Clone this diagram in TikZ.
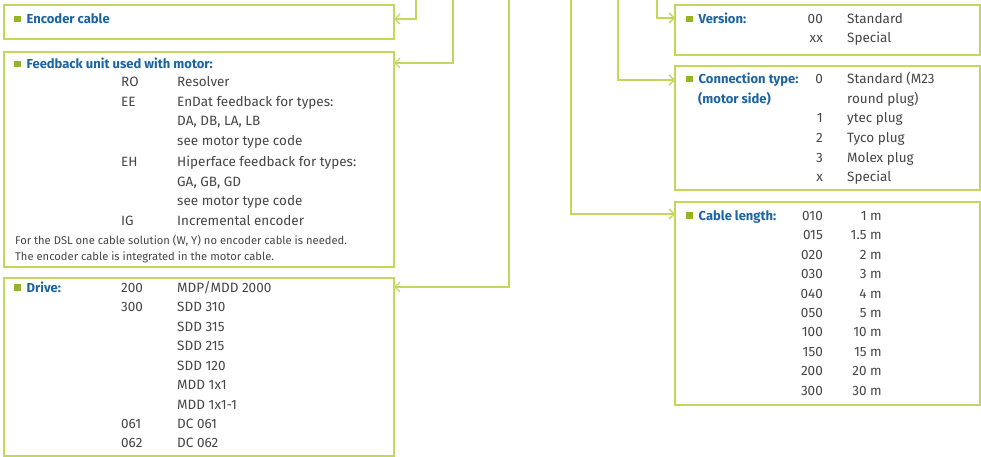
\documentclass[tikz,border=0pt]{standalone}
\usepackage{fontspec}
\setmainfont{Fira Sans}
\usetikzlibrary{arrows.meta}
\definecolor{lgreen}{RGB}{196,214,92}
\definecolor{bgreen}{RGB}{150,180,40}
\definecolor{tblue}{RGB}{28,100,160}
\definecolor{tgray}{RGB}{70,70,70}
\newcommand{\bul}{{\color{bgreen}\rule[1.5pt]{6.5pt}{6.5pt}}\hspace{6pt}}
\tikzset{
 box/.style={draw=lgreen, line width=1.6pt, anchor=north west, inner sep=0, outer sep=0, fill=white},
 conn/.style={draw=lgreen, line width=1.4pt, -{Straight Barb[length=5pt,width=10pt]}},
 ttl/.style={anchor=base west, inner sep=0, text=tblue, font=\fontsize{13}{15}\selectfont\bfseries},
 txt/.style={anchor=base west, inner sep=0, text=tgray, font=\fontsize{13.5}{16}\selectfont},
 txtr/.style={txt, anchor=base east},
 small/.style={txt, font=\fontsize{11.2}{13}\selectfont},
}
\begin{document}
\begin{tikzpicture}[x=1pt,y=-1pt]
\useasboundingbox (0,0) rectangle (981,457);
% boxes
\node[box, minimum width=390pt, minimum height=34pt] (enc) at (4,5) {};
\node[box, minimum width=390pt, minimum height=215pt] (fb) at (4,52) {};
\node[box, minimum width=390pt, minimum height=178pt] (drv) at (4,278) {};
\node[box, minimum width=305pt, minimum height=50pt] (ver) at (675,5) {};
\node[box, minimum width=305pt, minimum height=124pt] (con) at (675,66) {};
\node[box, minimum width=305pt, minimum height=203pt] (cab) at (675,202) {};
% connector ends
\coordinate (t1) at (416,0); \coordinate (encin) at (394,19);
\coordinate (t2) at (453,0); \coordinate (fbin) at (394,63);
\coordinate (t3) at (509,0); \coordinate (drvin) at (394,287);
\coordinate (t4) at (571,0); \coordinate (cabin) at (675,214);
\coordinate (t5) at (618,0); \coordinate (conin) at (675,80);
\coordinate (t6) at (657,0); \coordinate (verin) at (675,18);
\draw[conn] (t1) |- (encin);
\draw[conn] (t2) |- (fbin);
\draw[conn] (t3) |- (drvin);
\draw[conn] (t4) |- (cabin);
\draw[conn] (t5) |- (conin);
\draw[conn] (t6) |- (verin);
% Encoder cable
\node[ttl] (enct) at (14,24) {\bul Encoder cable};
% Feedback
\node[ttl] (fbt) at (14,69) {\bul Feedback unit used with motor:};
\node[txt] (fb1a) at (121,87) {RO};  \node[txt] (fb1b) at (177,87) {Resolver};
\node[txt] (fb2a) at (121,107) {EE}; \node[txt] (fb2b) at (177,107) {EnDat feedback for types:};
\node[txt] (fb3b) at (177,126) {DA, DB, LA, LB};
\node[txt] (fb4b) at (177,146) {see motor type code};
\node[txt] (fb5a) at (121,166) {EH}; \node[txt] (fb5b) at (177,166) {Hiperface feedback for types:};
\node[txt] (fb6b) at (177,186) {GA, GB, GD};
\node[txt] (fb7b) at (177,205) {see motor type code};
\node[txt] (fb8a) at (121,225) {IG}; \node[txt] (fb8b) at (177,225) {Incremental encoder};
\node[small] (fbn1) at (15,244) {For the DSL one cable solution (W, Y) no encoder cable is needed.};
\node[small] (fbn2) at (15,260) {The encoder cable is integrated in the motor cable.};
% Drive
\node[ttl] (drvt) at (14,292) {\bul Drive:};
\node[txt] (d1a) at (121,292) {200}; \node[txt] (d1b) at (177,292) {MDP/MDD 2000};
\node[txt] (d2a) at (121,311) {300}; \node[txt] (d2b) at (177,311) {SDD 310};
\node[txt] (d3b) at (177,331) {SDD 315};
\node[txt] (d4b) at (177,350) {SDD 215};
\node[txt] (d5b) at (177,370) {SDD 120};
\node[txt] (d6b) at (177,389) {MDD 1x1};
\node[txt] (d7b) at (177,409) {MDD 1x1-1};
\node[txt] (d8a) at (121,428) {061}; \node[txt] (d8b) at (177,428) {DC 061};
\node[txt] (d9a) at (121,447) {062}; \node[txt] (d9b) at (177,447) {DC 062};
% Version
\node[ttl] (vert) at (686,24) {\bul Version:};
\node[txtr] (v1a) at (823,24) {00}; \node[txt] (v1b) at (847,24) {Standard};
\node[txtr] (v2a) at (823,43) {xx}; \node[txt] (v2b) at (847,43) {Special};
% Connection
\node[ttl] (cont) at (686,84) {\bul Connection type:};
\node[ttl] (cont2) at (698,104) {(motor side)};
\node[txtr] (c1a) at (823,84) {0}; \node[txt] (c1b) at (847,84) {Standard (M23};
\node[txt] (c2b) at (847,104) {round plug)};
\node[txtr] (c3a) at (823,123) {1}; \node[txt] (c3b) at (847,123) {ytec plug};
\node[txtr] (c4a) at (823,143) {2}; \node[txt] (c4b) at (847,143) {Tyco plug};
\node[txtr] (c5a) at (823,162) {3}; \node[txt] (c5b) at (847,162) {Molex plug};
\node[txtr] (c6a) at (823,181) {x}; \node[txt] (c6b) at (847,181) {Special};
% Cable length
\node[ttl] (cabt) at (686,220) {\bul Cable length:};
\node[txtr] (l1a) at (823,220) {010}; \node[txtr] (l1b) at (882,220) {1 m};
\node[txtr] (l2a) at (823,239) {015}; \node[txtr] (l2b) at (882,239) {1.5 m};
\node[txtr] (l3a) at (823,259) {020}; \node[txtr] (l3b) at (882,259) {2 m};
\node[txtr] (l4a) at (823,278) {030}; \node[txtr] (l4b) at (882,278) {3 m};
\node[txtr] (l5a) at (823,298) {040}; \node[txtr] (l5b) at (882,298) {4 m};
\node[txtr] (l6a) at (823,317) {050}; \node[txtr] (l6b) at (882,317) {5 m};
\node[txtr] (l7a) at (823,336) {100}; \node[txtr] (l7b) at (882,336) {10 m};
\node[txtr] (l8a) at (823,356) {150}; \node[txtr] (l8b) at (882,356) {15 m};
\node[txtr] (l9a) at (823,375) {200}; \node[txtr] (l9b) at (882,375) {20 m};
\node[txtr] (l10a) at (823,395) {300}; \node[txtr] (l10b) at (882,395) {30 m};
\end{tikzpicture}
\end{document}
